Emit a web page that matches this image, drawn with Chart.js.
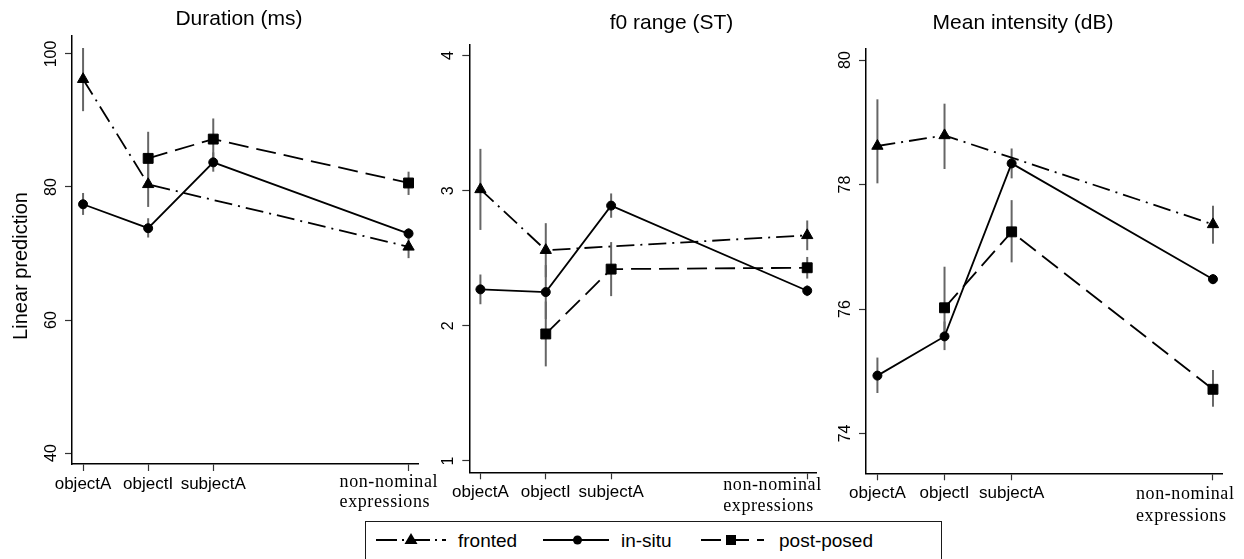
<!DOCTYPE html>
<html>
<head>
<meta charset="utf-8">
<script src="https://cdn.jsdelivr.net/npm/chart.js@4.4.0/dist/chart.umd.min.js"></script>
<style>
  html, body { margin: 0; padding: 0; background: #fff; width: 1244px; height: 559px; overflow: hidden; }
  body { position: relative; font-family: "Liberation Sans", Arial, sans-serif; }
  canvas { position: absolute; top: 0; }
  #legend { position: absolute; left: 365px; top: 521px; width: 577px; height: 50px;
            border: 1.5px solid #1a1a1a; background: #fff; box-sizing: border-box; }
  #legend svg { position: absolute; left: 0; top: 0; }
  #legend text { font-family: "Liberation Sans", Arial, sans-serif; font-size: 19px; fill: #000; }
</style>
</head>
<body>
<canvas id="pDuration" width="445" height="530" style="left:0px"></canvas>
<canvas id="pF0" width="400" height="530" style="left:430px"></canvas>
<canvas id="pIntensity" width="414" height="530" style="left:830px"></canvas>

<div id="legend">
  <svg width="577" height="50" viewBox="0 0 577 50">
    <!-- fronted: dash-dot with triangle -->
    <line x1="10" y1="18" x2="80" y2="18" stroke="#000" stroke-width="1.8" stroke-dasharray="21,5,2,5"/>
    <polygon points="45,11 51.5,22 38.5,22" fill="#000"/>
    <text x="92" y="25">fronted</text>
    <!-- in-situ: solid with circle -->
    <line x1="177" y1="18" x2="243" y2="18" stroke="#000" stroke-width="1.8"/>
    <circle cx="211.5" cy="18" r="4.5" fill="#000"/>
    <text x="255" y="25">in-situ</text>
    <!-- post-posed: dashed with square -->
    <line x1="335" y1="18" x2="398" y2="18" stroke="#000" stroke-width="1.8" stroke-dasharray="20,8"/>
    <rect x="360" y="13" width="10" height="10" fill="#000"/>
    <text x="413" y="25">post-posed</text>
  </svg>
</div>

<script>
// ---- categories shared by all three panels ----
const categories = ['objectA', 'objectI', 'subjectA', 'non-nominal expressions'];
const categoryPositions = [1, 2, 3, 6];
const seriesNames = ['fronted', 'in-situ', 'post-posed'];

// ---- Duration (ms) ----
const durationTicks = [40, 60, 80, 100];
const durationFronted = [96.2, 80.4, null, 71.0];
const durationFrontedLow = [91.4, 77.0, null, 69.3];
const durationFrontedHigh = [100.9, 83.5, null, 72.6];
const durationInSitu = [77.4, 73.8, 83.7, 73.0];
const durationInSituLow = [75.8, 72.4, 82.3, 72.2];
const durationInSituHigh = [79.1, 75.3, 85.2, 73.8];
const durationPostPosed = [null, 84.3, 87.2, 80.6];
const durationPostPosedLow = [null, 80.5, 84.2, 78.8];
const durationPostPosedHigh = [null, 88.3, 90.3, 82.3];

// ---- f0 range (ST) ----
const f0Ticks = [1, 2, 3, 4];
const f0Fronted = [3.01, 2.56, null, 2.67];
const f0FrontedLow = [2.71, 2.36, null, 2.56];
const f0FrontedHigh = [3.31, 2.76, null, 2.78];
const f0InSitu = [2.27, 2.25, 2.89, 2.26];
const f0InSituLow = [2.16, 2.05, 2.80, 2.22];
const f0InSituHigh = [2.38, 2.45, 2.98, 2.30];
const f0PostPosed = [null, 1.94, 2.42, 2.43];
const f0PostPosedLow = [null, 1.70, 2.22, 2.35];
const f0PostPosedHigh = [null, 2.18, 2.62, 2.51];

// ---- Mean intensity (dB) ----
const intensityTicks = [74, 76, 78, 80];
const intensityFronted = [78.62, 78.79, null, 77.36];
const intensityFrontedLow = [78.02, 78.25, null, 77.05];
const intensityFrontedHigh = [79.37, 79.30, null, 77.66];
const intensityInSitu = [74.93, 75.56, 78.34, 76.48];
const intensityInSituLow = [74.65, 75.34, 78.10, 76.40];
const intensityInSituHigh = [75.22, 75.80, 78.58, 76.56];
const intensityPostPosed = [null, 76.02, 77.24, 74.71];
const intensityPostPosedLow = [null, 75.50, 76.75, 74.43];
const intensityPostPosedHigh = [null, 76.68, 77.75, 75.02];

const SANS = '"Liberation Sans", Arial, sans-serif';
const SERIF = '"Liberation Serif", "Times New Roman", serif';

// line / marker style for each series
const seriesStyles = [
  { pointStyle: 'triangle', pointRadius: 6.5, borderDash: [18, 6, 2, 6], spanGaps: true },
  { pointStyle: 'circle', pointRadius: 4.5, borderDash: [], spanGaps: false },
  { pointStyle: 'rect', pointRadius: 7, borderDash: [20, 8], spanGaps: false }
];

// vertical confidence-interval bars, drawn under the lines
const errorBars = {
  id: 'errorBars',
  beforeDatasetsDraw(chart, args, opts) {
    const { ctx, scales: { x, y } } = chart;
    ctx.save();
    ctx.strokeStyle = '#666';
    ctx.lineWidth = 2;
    opts.intervals.forEach(iv => {
      iv.low.forEach((lo, i) => {
        const hi = iv.high[i];
        if (lo == null || hi == null) return;
        const px = x.getPixelForValue(categoryPositions[i]);
        ctx.beginPath();
        ctx.moveTo(px, y.getPixelForValue(lo));
        ctx.lineTo(px, y.getPixelForValue(hi));
        ctx.stroke();
      });
    });
    ctx.restore();
  }
};

// panel title, rotated y tick labels, category labels, optional y-axis title
const panelText = {
  id: 'panelText',
  afterDraw(chart, args, opts) {
    const { ctx, scales: { x, y } } = chart;
    ctx.save();
    ctx.fillStyle = '#000';

    // title
    ctx.font = '21px ' + SANS;
    ctx.textAlign = 'center';
    ctx.textBaseline = 'alphabetic';
    ctx.fillText(opts.title, opts.titleX, opts.titleY);

    // y tick labels, reading bottom to top
    ctx.font = '16px ' + SANS;
    y.ticks.forEach(t => {
      const py = y.getPixelForValue(t.value);
      ctx.save();
      ctx.translate(y.right - 16, py);
      ctx.rotate(-Math.PI / 2);
      ctx.textAlign = 'center';
      ctx.fillText(String(t.value), 0, 0);
      ctx.restore();
    });

    // category labels
    const base = x.top;
    categories.forEach((label, i) => {
      const px = x.getPixelForValue(categoryPositions[i]);
      const words = label.split(' ');
      if (words.length > 1) {
        ctx.font = '18px ' + SERIF;
        ctx.textAlign = 'left';
        if ('letterSpacing' in ctx) ctx.letterSpacing = '0.6px';
        words.forEach((w, k) => ctx.fillText(w, px + opts.longLabelOffset, base + opts.longLabelLines[k]));
        if ('letterSpacing' in ctx) ctx.letterSpacing = '0px';
      } else {
        ctx.font = '17px ' + SANS;
        ctx.textAlign = 'center';
        ctx.fillText(label, px, base + 25);
      }
    });

    // shared y-axis title
    if (opts.yTitle) {
      ctx.save();
      ctx.font = '20px ' + SANS;
      ctx.translate(opts.yTitleX, opts.yTitleY);
      ctx.rotate(-Math.PI / 2);
      ctx.textAlign = 'center';
      ctx.fillText(opts.yTitle, 0, 0);
      ctx.restore();
    }
    ctx.restore();
  }
};

function makePanel(cfg) {
  const seriesValues = [cfg.fronted, cfg.inSitu, cfg.postPosed];
  const datasets = seriesValues.map((vals, s) => ({
    label: seriesNames[s],
    data: vals.map((v, i) => ({ x: categoryPositions[i], y: v })),
    borderColor: '#000',
    backgroundColor: '#000',
    borderWidth: 1.8,
    borderDash: seriesStyles[s].borderDash,
    pointStyle: seriesStyles[s].pointStyle,
    pointRadius: seriesStyles[s].pointRadius,
    pointBackgroundColor: '#000',
    pointBorderColor: '#000',
    pointBorderWidth: 1,
    spanGaps: seriesStyles[s].spanGaps,
    tension: 0,
    clip: false
  }));

  new Chart(document.getElementById(cfg.canvas), {
    type: 'line',
    data: { datasets },
    options: {
      responsive: false,
      animation: false,
      devicePixelRatio: 1,
      events: [],
      layout: { padding: cfg.padding },
      scales: {
        x: {
          type: 'linear',
          min: 0.83,
          max: 6.145,
          afterBuildTicks: s => { s.ticks = categoryPositions.map(v => ({ value: v })); },
          afterFit: s => { s.height = 10; },
          ticks: { display: false },
          grid: { drawOnChartArea: false, drawTicks: true, tickLength: 7, tickColor: '#333', tickWidth: 1.2 },
          border: { display: true, color: '#000', width: 1.5 }
        },
        y: {
          type: 'linear',
          min: cfg.yMin,
          max: cfg.yMax,
          afterBuildTicks: s => { s.ticks = cfg.yTicks.map(v => ({ value: v })); },
          afterFit: s => { s.width = 10; },
          ticks: { display: false },
          grid: { drawOnChartArea: false, drawTicks: true, tickLength: 7, tickColor: '#333', tickWidth: 1.2 },
          border: { display: true, color: '#000', width: 1.5 }
        }
      },
      plugins: {
        legend: { display: false },
        tooltip: { enabled: false },
        errorBars: { intervals: cfg.intervals },
        panelText: {
          title: cfg.title, titleX: cfg.titleX, titleY: cfg.titleY,
          longLabelOffset: cfg.longLabelOffset, longLabelLines: cfg.longLabelLines,
          yTitle: cfg.yTitle, yTitleX: 27, yTitleY: 266
        }
      }
    },
    plugins: [errorBars, panelText]
  });
}

makePanel({
  canvas: 'pDuration',
  title: 'Duration (ms)', titleX: 239, titleY: 24.5,
  yTitle: 'Linear prediction',
  yMin: 38.35, yMax: 102.7, yTicks: durationTicks,
  padding: { left: 62, right: 27, top: 36, bottom: 56 },
  longLabelOffset: -69, longLabelLines: [22.5, 42.5],
  fronted: durationFronted, inSitu: durationInSitu, postPosed: durationPostPosed,
  intervals: [
    { low: durationFrontedLow, high: durationFrontedHigh },
    { low: durationInSituLow, high: durationInSituHigh },
    { low: durationPostPosedLow, high: durationPostPosedHigh }
  ]
});

makePanel({
  canvas: 'pF0',
  title: 'f0 range (ST)', titleX: 241.5, titleY: 29,
  yMin: 0.916, yMax: 4.084, yTicks: f0Ticks,
  padding: { left: 29.3, right: 13.3, top: 44.3, bottom: 47.7 },
  longLabelOffset: -84, longLabelLines: [18, 38.5],
  fronted: f0Fronted, inSitu: f0InSitu, postPosed: f0PostPosed,
  intervals: [
    { low: f0FrontedLow, high: f0FrontedHigh },
    { low: f0InSituLow, high: f0InSituHigh },
    { low: f0PostPosedLow, high: f0PostPosedHigh }
  ]
});

makePanel({
  canvas: 'pIntensity',
  title: 'Mean intensity (dB)', titleX: 193, titleY: 28.5,
  yMin: 73.36, yMax: 80.19, yTicks: intensityTicks,
  padding: { left: 26, right: 21.3, top: 48.3, bottom: 46.7 },
  longLabelOffset: -77, longLabelLines: [26, 48],
  fronted: intensityFronted, inSitu: intensityInSitu, postPosed: intensityPostPosed,
  intervals: [
    { low: intensityFrontedLow, high: intensityFrontedHigh },
    { low: intensityInSituLow, high: intensityInSituHigh },
    { low: intensityPostPosedLow, high: intensityPostPosedHigh }
  ]
});
</script>
</body>
</html>
